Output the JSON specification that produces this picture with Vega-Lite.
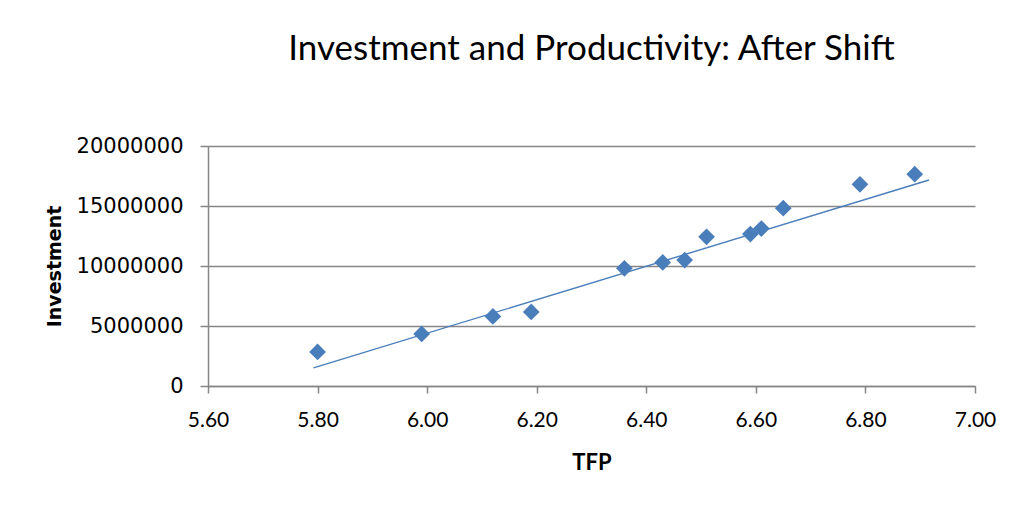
{
  "$schema": "https://vega.github.io/schema/vega-lite/v6.json",
  "width": 767,
  "height": 240,
  "autosize": {"type": "none"},
  "padding": {"left": 208, "top": 146, "right": 52, "bottom": 123},
  "background": "white",
  "title": {
    "text": "Investment and Productivity: After Shift",
    "font": "Lato",
    "fontSize": 35,
    "fontWeight": "normal",
    "color": "#000000",
    "anchor": "middle",
    "frame": "group",
    "baseline": "alphabetic",
    "offset": 40
  },
  "datasets": {
    "points": [
      {"TFP": 5.80, "Investment": 2840000},
      {"TFP": 5.99, "Investment": 4340000},
      {"TFP": 6.12, "Investment": 5800000},
      {"TFP": 6.19, "Investment": 6170000},
      {"TFP": 6.36, "Investment": 9810000},
      {"TFP": 6.43, "Investment": 10300000},
      {"TFP": 6.47, "Investment": 10490000},
      {"TFP": 6.51, "Investment": 12430000},
      {"TFP": 6.59, "Investment": 12660000},
      {"TFP": 6.61, "Investment": 13120000},
      {"TFP": 6.65, "Investment": 14820000},
      {"TFP": 6.79, "Investment": 16810000},
      {"TFP": 6.89, "Investment": 17650000}
    ],
    "trend": [
      {"TFP": 5.7925, "Investment": 1510000},
      {"TFP": 6.916, "Investment": 17170000}
    ]
  },
  "encoding": {
    "x": {
      "field": "TFP",
      "type": "quantitative",
      "scale": {"domain": [5.6, 7.0], "nice": false, "zero": false},
      "axis": {
        "values": [5.6, 5.8, 6.0, 6.2, 6.4, 6.6, 6.8, 7.0],
        "format": ".2f",
        "grid": false,
        "domainColor": "#868686",
        "domainWidth": 1.5,
        "tickColor": "#868686",
        "tickWidth": 1.5,
        "tickSize": 7,
        "labelFont": "Lato",
        "labelFontSize": 21,
        "labelColor": "#000000",
        "labelPadding": 16,
        "labelFlush": false,
        "title": "TFP",
        "titleFont": "Lato",
        "titleFontSize": 22,
        "titleFontWeight": "bold",
        "titleColor": "#000000",
        "titlePadding": 22
      }
    },
    "y": {
      "field": "Investment",
      "type": "quantitative",
      "scale": {"domain": [0, 20000000], "nice": false},
      "axis": {
        "values": [0, 5000000, 10000000, 15000000, 20000000],
        "format": "d",
        "grid": true,
        "gridColor": "#868686",
        "gridWidth": 1.5,
        "domainColor": "#868686",
        "domainWidth": 1.5,
        "tickColor": "#868686",
        "tickWidth": 1.5,
        "tickSize": 8,
        "labelFont": "DejaVu Sans",
        "labelFontSize": 21,
        "labelColor": "#000000",
        "labelPadding": 17,
        "title": "Investment",
        "titleFont": "DejaVu Sans",
        "titleFontSize": 19,
        "titleFontWeight": "bold",
        "titleColor": "#000000",
        "titlePadding": 12
      }
    }
  },
  "layer": [
    {
      "data": {"name": "trend"},
      "mark": {"type": "line", "color": "#4A7EBB", "strokeWidth": 1.4}
    },
    {
      "data": {"name": "points"},
      "mark": {"type": "point", "shape": "diamond", "filled": true, "size": 280, "color": "#4A7EBB", "opacity": 1}
    }
  ],
  "config": {"view": {"stroke": null}}
}
